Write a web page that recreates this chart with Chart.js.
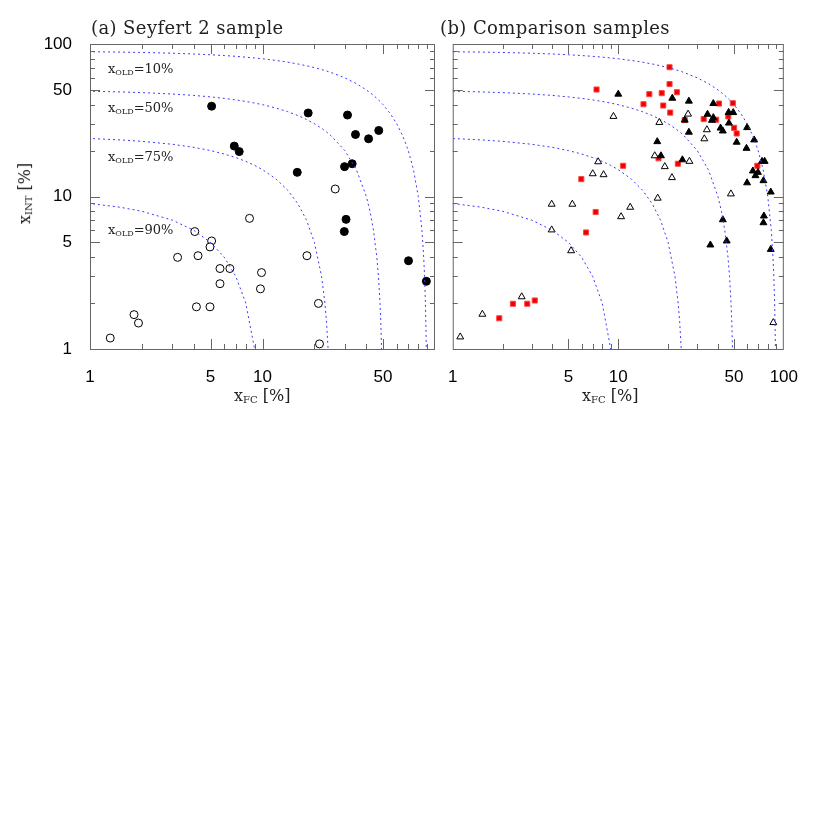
<!DOCTYPE html>
<html><head><meta charset="utf-8">
<script src="https://cdn.jsdelivr.net/npm/chart.js@4"></script>
<style>
body{margin:0;background:#fff;width:830px;height:830px;position:relative;overflow:hidden}
canvas{position:absolute}
.t{position:absolute;font-family:"DejaVu Serif",serif;color:#222;white-space:nowrap}
.lab{font-size:13px}
sub{font-size:8px;vertical-align:-2px}
</style></head><body>
<canvas id="ca" style="left:0;top:0" width="440" height="420"></canvas>
<canvas id="cb" style="left:438px;top:0" width="370" height="420"></canvas>
<div class="t" style="left:91px;top:17px;font-size:18px;letter-spacing:0.4px">(a) Seyfert 2 sample</div>
<div class="t" style="left:440px;top:17px;font-size:18px;letter-spacing:0.4px">(b) Comparison samples</div>
<div class="t lab" style="left:108px;top:61px">x<sub>OLD</sub>=10%</div>
<div class="t lab" style="left:108px;top:100px">x<sub>OLD</sub>=50%</div>
<div class="t lab" style="left:108px;top:149px">x<sub>OLD</sub>=75%</div>
<div class="t lab" style="left:108px;top:222px">x<sub>OLD</sub>=90%</div>
<div class="t" style="left:234px;top:386px;font-size:16px">x<sub style="font-size:10px">FC</sub> [%]</div>
<div class="t" style="left:582px;top:386px;font-size:16px">x<sub style="font-size:10px">FC</sub> [%]</div>
<div class="t" style="left:-6px;top:184px;font-size:16px;transform:rotate(-90deg)">x<sub style="font-size:10px">INT</sub> [%]</div>
<script>
// ---- data ----
const labelTicksA = [1,5,10,50];
const labelTicksB = [1,5,10,50,100];
const yLabelTicks = [1,5,10,50,100];
const oldLevels = [10,50,75,90];
const curveX = [0.5,1,1.5,2,3,4,5,6,7,8,9,10,12,14,16,18,20,22,23,23.5,24,24.5,25,30,35,40,42,44,46,47,48,48.5,49,49.5,50,55,60,65,70,75,80,84,86,87,88,88.5,89,89.5,90];
const seyFilled = [[5.07,39.1],[18.4,35.3],[31.1,34.2],[34.6,25.5],[41.2,23.9],[47.2,27.1],[6.86,21.4],[7.33,19.7],[15.9,14.4],[29.9,15.7],[33.1,16.4],[30.5,7.08],[29.8,5.89],[70.2,3.79],[89.1,2.78]];
const seyOpen = [[26.4,11.2],[8.41,7.19],[4.05,5.89],[5.07,5.11],[4.96,4.67],[3.22,3.99],[4.23,4.09],[18.1,4.09],[5.67,3.37],[6.47,3.37],[9.87,3.17],[5.67,2.68],[9.73,2.48],[21.1,1.99],[4.14,1.89],[4.96,1.89],[1.80,1.68],[1.91,1.48],[1.31,1.18],[21.4,1.08]];
const redSquares = [[20.4,70.4],[7.39,50.3],[20.4,54.6],[15.4,46.9],[18.3,47.6],[22.6,48.3],[14.2,40.3],[18.7,39.5],[20.6,35.5],[25.2,31.7],[32.8,32.2],[39.0,31.9],[40.6,40.7],[49.2,40.9],[46.2,33.5],[50.1,28.2],[51.9,25.9],[69.2,15.9],[10.7,15.9],[22.9,16.4],[17.5,17.8],[5.98,13.0],[7.30,7.91],[6.39,5.81],[1.91,1.59],[2.31,1.98],[2.82,1.98],[3.13,2.08]];
const filledTri = [[10.0,46.9],[21.2,44.1],[26.7,42.2],[37.5,40.7],[34.6,34.6],[46.4,35.6],[49.5,35.5],[25.2,31.7],[37.5,32.9],[36.8,31.6],[46.6,30.3],[26.7,26.4],[41.5,28.1],[42.8,26.9],[60.0,28.3],[66.2,23.5],[51.9,22.7],[59.5,20.7],[17.2,22.9],[18.1,18.5],[24.4,17.4],[73.9,17.0],[76.6,17.0],[65.0,14.7],[69.8,14.4],[67.4,13.7],[60.0,12.3],[75.3,12.7],[83.4,10.7],[75.8,7.45],[75.3,6.73],[42.8,7.04],[45.2,5.11],[36.0,4.81],[83.4,4.50]];
const openTri = [[9.35,33.5],[26.4,34.7],[17.7,30.6],[34.3,27.4],[33.1,23.9],[16.6,18.5],[26.9,17.0],[19.1,15.7],[21.1,13.3],[7.56,16.9],[7.01,14.1],[8.15,13.9],[17.3,9.75],[47.9,10.4],[3.96,8.90],[5.28,8.90],[11.8,8.50],[10.4,7.37],[3.96,6.04],[5.19,4.41],[2.61,2.20],[1.51,1.69],[1.11,1.20],[86.4,1.49]];

const pts = a => a.map(([x,y])=>({x,y}));
const makeCurves = () => oldLevels.map(o => ({
  type:'line', data: curveX.filter(x=>x<100-o-0.01).map(x=>({x,y:(100-o)-x})).concat([{x:100-o-0.02,y:0.02}]),
  borderColor:'#3a3aff', borderWidth:1, borderDash:[2,3], pointRadius:0, fill:false, tension:0
}));
function ds(data, style, bg, border){return {type:'scatter',data:pts(data),pointStyle:style,pointRadius:style==='rect'?3.6:4,backgroundColor:bg,borderColor:border,borderWidth:1};}

const ticksPlugin = {
  id:'ticksP',
  afterDraw(ch){
    const c=ch.ctx, a=ch.chartArea, xs=ch.scales.x, ys=ch.scales.y;
    c.save(); c.strokeStyle='#666'; c.lineWidth=1;
    c.strokeRect(a.left+0.5,a.top+0.5,a.right-a.left-1,a.bottom-a.top);
    const vals=[];
    for(let d=1;d<=100;d*=10) for(let m=1;m<10;m++){const v=d*m; if(v<=100) vals.push(v);}
    vals.forEach(v=>{
      const big=(v===1||v===10||v===100||v===5||v===50);
      const L=big?10:5;
      const px=Math.round(xs.getPixelForValue(v))+0.5;
      if(px>a.left+1&&px<a.right-1){c.beginPath();c.moveTo(px,a.bottom);c.lineTo(px,a.bottom-L);c.moveTo(px,a.top);c.lineTo(px,a.top+L);c.stroke();}
      const py=Math.round(ys.getPixelForValue(v))+0.5;
      if(py>a.top+1&&py<a.bottom-1){c.beginPath();c.moveTo(a.left,py);c.lineTo(a.left+L,py);c.moveTo(a.right,py);c.lineTo(a.right-L,py);c.stroke();}
    });
    c.restore();
  }
};
function opts(xLabels, showY, padRight, yWidth){
  return {
    responsive:false, animation:false, events:[],
    layout:{padding:{left:0,right:padRight,top:44,bottom:0}},
    plugins:{legend:{display:false},tooltip:{enabled:false}},
    scales:{
      x:{type:'logarithmic',min:1,max:100,grid:{display:false},border:{display:false},
        afterBuildTicks:s=>{s.ticks=xLabels.map(v=>({value:v}));},
        afterFit:s=>{s.height=71;},
        ticks:{autoSkip:false,maxRotation:0,padding:10,color:'#000',font:{family:'Liberation Sans',size:17},callback:v=>String(v)}},
      y:{type:'logarithmic',min:1,max:100,display:showY,grid:{display:false},border:{display:false},
        afterBuildTicks:s=>{s.ticks=yLabelTicks.map(v=>({value:v}));},
        afterFit:s=>{s.width=yWidth;},
        ticks:{autoSkip:false,padding:10,color:'#000',font:{family:'Liberation Sans',size:17},callback:v=>String(v)}}
    }
  };
}
const ca = new Chart(document.getElementById('ca'),{type:'scatter',data:{datasets:[...makeCurves(),ds(seyFilled,'circle','#000','#000'),ds(seyOpen,'circle','#fff','#000')]},options:opts(labelTicksA,true,0,90),plugins:[ticksPlugin]});
new Chart(document.getElementById('cb'),{type:'scatter',data:{datasets:[...makeCurves(),ds(openTri,'triangle','#fff','#000'),ds(filledTri,'triangle','#000','#000'),ds(redSquares,'rect','#ee0000','#ff4444')]},options:opts(labelTicksB,false,24,0),plugins:[ticksPlugin]});
</script>
</body></html>
